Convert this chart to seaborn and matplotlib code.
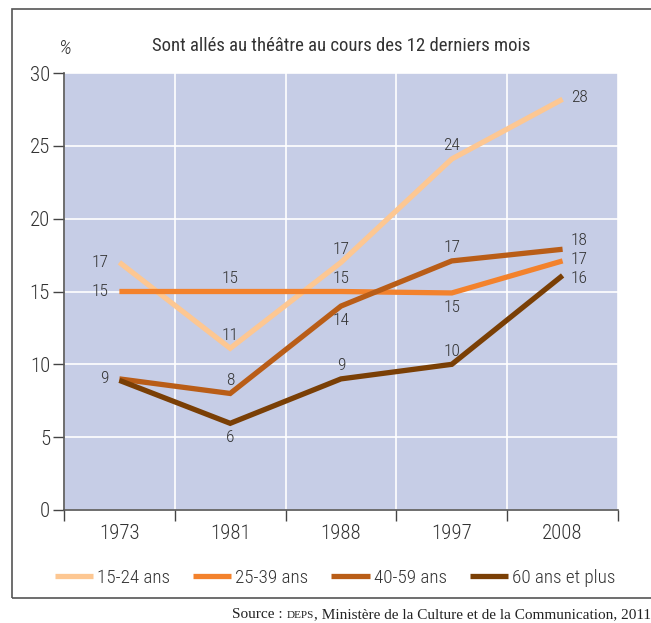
import matplotlib
matplotlib.use("Agg")
import matplotlib.pyplot as plt
import numpy as np
import pandas as pd
import seaborn as sns
from matplotlib.patches import Rectangle
from matplotlib.offsetbox import TextArea, HPacker, AnchoredOffsetbox

# --- data ---------------------------------------------------------------
YEARS = ["1973", "1981", "1988", "1997", "2008"]
GROUPS = ["15-24 ans", "25-39 ans", "40-59 ans", "60 ans et plus"]
AGE_15_24 = [17.0, 11.1, 17.0, 24.1, 28.2]
AGE_25_39 = [15.0, 15.0, 15.0, 14.9, 17.1]
AGE_40_59 = [9.0, 8.0, 14.0, 17.1, 17.9]
AGE_60_PLUS = [8.9, 5.95, 9.0, 10.0, 16.1]
LABELS_15_24 = ["17", "11", "17", "24", "28"]
LABELS_25_39 = ["15", "15", "15", "15", "17"]
LABELS_40_59 = ["9", "8", "14", "17", "18"]
LABELS_60_PLUS = ["", "6", "9", "10", "16"]

COLORS = ["#fdc792", "#f3822c", "#b95d17", "#7a3f05"]
# label placement per point: l = left, a = above, b = below, r / ru / rd = right
PLACE = {
    "15-24 ans": ["l", "a", "a", "a", "r"],
    "25-39 ans": ["l", "a", "a", "b", "r"],
    "40-59 ans": ["l", "a", "b", "a", "ru"],
    "60 ans et plus": ["l", "b", "a", "a", "rd"],
}
OFFSETS = {
    "l": ((-8, 0), "right", "center"),
    "r": ((6, 1), "left", "center"),
    "ru": ((6, 6), "left", "center"),
    "rd": ((6, -2), "left", "center"),
    "a": ((0, 4), "center", "bottom"),
    "b": ((0, -5), "center", "top"),
}

values = [AGE_15_24, AGE_25_39, AGE_40_59, AGE_60_PLUS]
labels = [LABELS_15_24, LABELS_25_39, LABELS_40_59, LABELS_60_PLUS]
df = pd.DataFrame({
    "pos": np.tile(np.arange(len(YEARS)), len(GROUPS)),
    "value": np.concatenate(values),
    "group": np.repeat(GROUPS, len(YEARS)),
})

sns.set_theme(style="white")
plt.rcParams["font.family"] = ["Roboto Condensed", "DejaVu Sans"]
plt.rcParams["font.weight"] = "light"
TXT = "#333333"

fig = plt.figure(figsize=(6.51, 6.23), dpi=100)
ax = fig.add_axes([0.0983, 0.1814, 0.8510, 0.7014])
ax.set_facecolor("#c6cde6")

sns.lineplot(data=df, x="pos", y="value", hue="group", hue_order=GROUPS,
             palette=COLORS, linewidth=3.8, ax=ax, legend=True)
for line in ax.lines:
    line.set_solid_capstyle("butt")
    line.set_solid_joinstyle("miter")

# data labels
for g, vals, labs in zip(GROUPS, values, labels):
    for i, (v, lab) in enumerate(zip(vals, labs)):
        if not lab:
            continue
        off, ha, va = OFFSETS[PLACE[g][i]]
        ax.annotate(lab, (i, v), xytext=off, textcoords="offset points",
                    ha=ha, va=va, fontsize=12.5, fontweight="light", color=TXT)

ax.set_xlim(-0.5, 4.5)
ax.set_ylim(0, 30)
ax.set_yticks([0, 5, 10, 15, 20, 25, 30])
ax.set_xticks(np.arange(-0.5, 5, 1.0))
ax.set_xticklabels([])
ax.set_xticks(np.arange(len(YEARS)), minor=True)
ax.set_xticklabels(YEARS, minor=True)
ax.tick_params(axis="x", which="major", length=8, width=1, color="#444444", direction="out", bottom=True)
ax.tick_params(axis="x", which="minor", length=0, pad=10, labelsize=15, labelcolor=TXT)
ax.tick_params(axis="y", length=8, width=1, color="#444444", direction="out", left=True,
               labelsize=15, labelcolor=TXT, pad=2)

ax.grid(True, which="major", color="white", linewidth=1.2)
ax.set_axisbelow(True)
for s in ["top", "right"]:
    ax.spines[s].set_visible(False)
for s in ["left", "bottom"]:
    ax.spines[s].set_color("#555555")
    ax.spines[s].set_linewidth(1.2)
ax.set_xlabel("")
ax.set_ylabel("")

ax.set_title("Sont allés au théâtre au cours des 12 derniers mois",
             fontsize=13.5, color=TXT, pad=16)
fig.text(58 / 651, 1 - 48 / 623, "%", fontsize=15, color=TXT, ha="left", va="center",
         style="italic")

handles, hl = ax.get_legend_handles_labels()
ax.legend(handles, hl, loc="center", bbox_to_anchor=(335 / 651, 1 - 578 / 623),
          bbox_transform=fig.transFigure, ncol=4, frameon=False, fontsize=13.8,
          handlelength=2.0, handletextpad=0.2, columnspacing=1.2)
for t in ax.get_legend().get_texts():
    t.set_color(TXT)

# outer frame
fig.patches.append(Rectangle((12 / 651, 1 - 598 / 623), 1.0, (598 - 9) / 623,
                             transform=fig.transFigure, fill=False,
                             edgecolor="#555555", linewidth=1.2, clip_on=False))

# source line
serif = ["Liberation Serif", "DejaVu Serif"]
parts = [
    TextArea("Source : ", textprops=dict(family=serif, size=11, weight="normal", color="#222222")),
    TextArea("DEPS", textprops=dict(family=serif, size=8, weight="normal", color="#222222")),
    TextArea(", Ministère de la Culture et de la Communication, 2011",
             textprops=dict(family=serif, size=11, weight="normal", color="#222222")),
]
box = HPacker(children=parts, align="baseline", pad=0, sep=0)
anchored = AnchoredOffsetbox(loc="lower right", child=box, frameon=False, pad=0,
                             bbox_to_anchor=(1.0, 0.003), bbox_transform=fig.transFigure,
                             borderpad=0)
fig.add_artist(anchored)

fig.savefig("out.png", dpi=100)
